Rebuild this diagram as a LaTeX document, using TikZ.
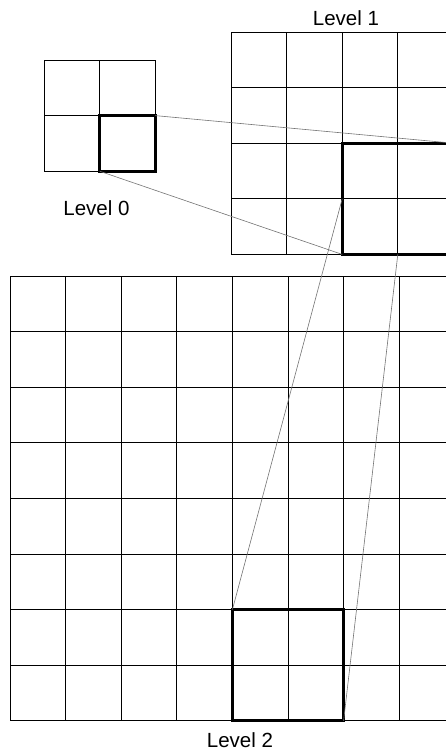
\documentclass[tikz,border=0pt]{standalone}
\usepackage{fontspec}
\setmainfont{Liberation Sans}
\usetikzlibrary{positioning}

\begin{document}
\begin{tikzpicture}[
        x=1pt, y=-1pt,
        gridline/.style={draw=black, line width=0.8pt},
        block/.style={
            rectangle,
            draw=black,
            line width=3pt,
            inner sep=0pt,
            outer sep=0pt,
            minimum size=#1
        },
        link/.style={draw=black!55, line width=0.6pt},
        caption/.style={font=\fontsize{20.5}{24}\selectfont, inner sep=0pt}
    ]
        \useasboundingbox (0,0) rectangle (446,755);
        \clip (0,0) rectangle (446,755);
        % level 0 grid
        \foreach \i in {0,...,2} {
            \draw[gridline] (44+\i*55.6,60) -- (44+\i*55.6,171.2);
            \draw[gridline] (44,60+\i*55.6) -- (155.2,60+\i*55.6);
        }
        % level 1 grid
        \foreach \i in {0,...,4} {
            \draw[gridline] (231+\i*55.6,32) -- (231+\i*55.6,254.4);
            \draw[gridline] (231,32+\i*55.6) -- (453.4,32+\i*55.6);
        }
        % level 2 grid
        \foreach \i in {0,...,8} {
            \draw[gridline] (10+\i*55.6,276) -- (10+\i*55.6,720.8);
            \draw[gridline] (10,276+\i*55.6) -- (454.8,276+\i*55.6);
        }
        \node[block=55.6pt] (sel0) at (127.4,143.4) {};
        \node[block=111.2pt] (sel1) at (397.8,198.8) {};
        \node[block=111.2pt] (sel2) at (288,665.2) {};
        \draw[link] (sel0.north east) -- (sel1.north east);
        \draw[link] (sel0.south west) -- (sel1.south west);
        \draw[link] (sel2.north west) -- (sel1.west);
        \draw[link] (sel2.south east) -- (sel1.south);
        \node[caption] (lab0) at (96.5,208) {Level 0};
        \node[caption] (lab1) at (346,18) {Level 1};
        \node[caption] (lab2) at (240,740) {Level 2};
    \end{tikzpicture}
\end{document}
